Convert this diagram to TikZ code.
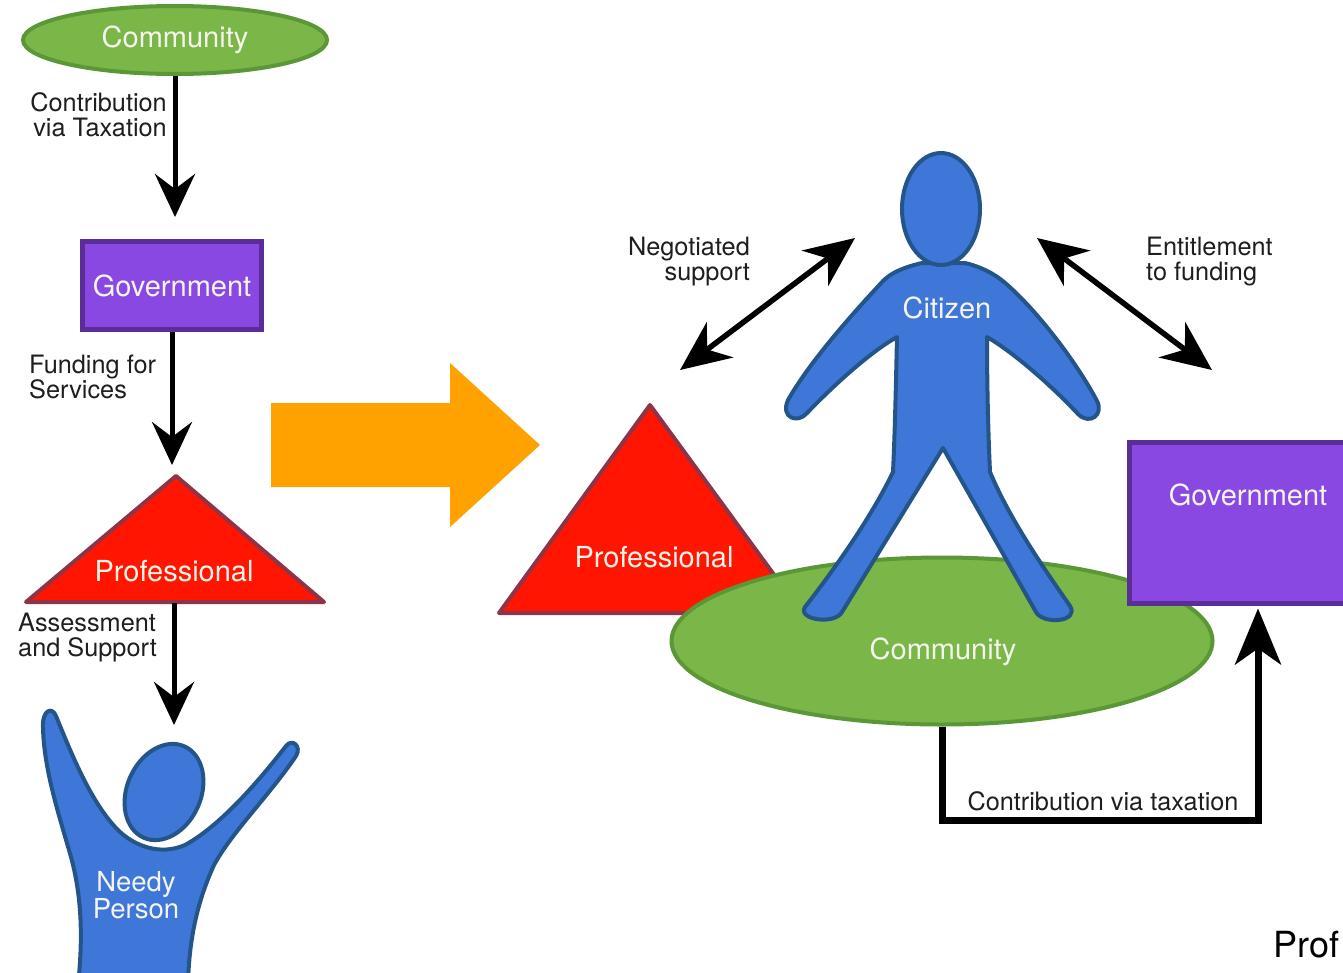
\documentclass[tikz,border=0pt]{standalone}
\usepackage{fontspec}
\setmainfont{TeX Gyre Heros}
\usetikzlibrary{arrows.meta,shapes.geometric}
\definecolor{grfill}{HTML}{7AB648}
\definecolor{grline}{HTML}{5B9637}
\definecolor{pufill}{HTML}{8A48E2}
\definecolor{puline}{HTML}{5A2E96}
\definecolor{rdfill}{HTML}{FF1500}
\definecolor{rdline}{HTML}{8E3448}
\definecolor{blfill}{HTML}{3F77D9}
\definecolor{blline}{HTML}{245488}
\definecolor{orfill}{HTML}{FFA200}
\definecolor{lighttxt}{HTML}{F4F4EC}
\definecolor{lbltxt}{HTML}{1E1E1E}
\tikzset{
  shapeline/.style={line width=4pt, line join=round},
  intxt/.style={font=\fontsize{29}{30}\selectfont, text=lighttxt, inner sep=0pt},
  lbl/.style={font=\fontsize{25.3}{25}\selectfont, text=lbltxt, inner sep=0pt},
  arr/.style={line width=5pt, -{Stealth[length=43pt,width=40pt,inset=15pt]}},
  arrb/.style={line width=7pt, line join=miter, -{Stealth[length=56pt,width=46pt,inset=16pt]}},
  darr/.style={line width=5.5pt, {Stealth[length=50pt,width=44pt,inset=16pt]}-{Stealth[length=50pt,width=44pt,inset=16pt]}},
}
\begin{document}
\begin{tikzpicture}[x=1pt,y=-1pt]
\useasboundingbox (0,0) rectangle (1343,972);
\clip (0,0) rectangle (1343,972);
\fill[white] (0,0) rectangle (1343,972);

% ---------- left column ----------
\node[ellipse, draw=grline, fill=grfill, shapeline, minimum width=304pt, minimum height=68pt, intxt] (comm1) at (175,40) {Community};
\node[rectangle, draw=puline, fill=pufill, line width=5pt, minimum width=179pt, minimum height=88pt, intxt] (gov1) at (172,285.5) {Government};
\filldraw[draw=rdline, fill=rdfill, shapeline] (176,476) -- (324,602) -- (26,602) -- cycle;
\coordinate (p1apex) at (176,474);
\coordinate (p1base) at (174,603);
\node[intxt] (prof1) at (174,571) {Professional};

% needy person
\filldraw[draw=blline, fill=blfill, shapeline]
  (56,716) .. controls (72,755) and (90,800) .. (116,828)
  .. controls (133,846) and (160,856) .. (185,845)
  .. controls (220,826) and (258,782) .. (286,746)
  .. controls (292,738) and (302,746) .. (296,756)
  .. controls (268,797) and (232,832) .. (214,865)
  .. controls (199,898) and (189,935) .. (188,985)
  -- (78,985)
  .. controls (84,930) and (80,890) .. (71,857)
  .. controls (59,815) and (44,770) .. (43,728)
  .. controls (42,710) and (52,706) .. (56,716) -- cycle;
\node[ellipse, draw=blline, fill=blfill, shapeline, minimum width=74pt, minimum height=100pt, rotate=-24] (nphead) at (164,792) {};
\coordinate (nptop) at (174,742);
\node[intxt, align=center, font=\fontsize{27.5}{26}\selectfont] (npt) at (136,895) {Needy\\Person};

\draw[arr, shorten >=22pt] (comm1.south) -- (comm1.south |- gov1.north);
\draw[arr, shorten >=9pt] (gov1.south) -- (gov1.south |- p1apex);
\draw[arr, shorten >=17pt] (p1base) -- (nptop);

\node[lbl, align=right, anchor=east] (ctl) at (167,115) {Contribution\\via Taxation};
\node[lbl, align=left, anchor=west] (ffs) at (29,377) {Funding for\\Services};
\node[lbl, align=left, anchor=west] (aas) at (18,638) {Assessment\\and Support};

% ---------- big orange arrow ----------
\fill[orfill] (271,403) -- (450,403) -- (450,363) -- (540,445) -- (450,527) -- (450,487) -- (271,487) -- cycle;

% ---------- right side ----------
\filldraw[draw=rdline, fill=rdfill, shapeline] (650,405) -- (802,613) -- (499,613) -- cycle;
\node[intxt] (prof2) at (654,557) {Professional};

\node[ellipse, draw=grline, fill=grfill, shapeline, minimum width=541pt, minimum height=167pt] (comm2) at (942,641) {};
\node[intxt] (comm2t) at (943,652) {Community};

% citizen
\filldraw[draw=blline, fill=blfill, shapeline]
  (922,263) .. controls (905,267) and (892,272) .. (883,281)
  .. controls (858,308) and (812,358) .. (788,400)
  .. controls (780,418) and (798,424) .. (807,413)
  .. controls (833,386) and (870,352) .. (897,337)
  .. controls (896,380) and (895,430) .. (893,472)
  .. controls (870,520) and (830,575) .. (805,607)
  .. controls (797,620) and (835,625) .. (842,612)
  -- (943,448)
  -- (1036,612)
  .. controls (1043,625) and (1080,622) .. (1070,606)
  .. controls (1045,570) and (1010,520) .. (990,472)
  .. controls (988,430) and (987,380) .. (987,337)
  .. controls (1013,352) and (1052,386) .. (1078,414)
  .. controls (1090,426) and (1104,414) .. (1097,401)
  .. controls (1077,363) and (1037,310) .. (1004,282)
  .. controls (992,272) and (978,266) .. (965,263) -- cycle;
\node[ellipse, draw=blline, fill=blfill, shapeline, minimum width=78pt, minimum height=112pt] (chead) at (941,209) {};
\node[intxt] (citt) at (947,308) {Citizen};

\node[rectangle, draw=puline, fill=pufill, line width=5pt, outer sep=0pt, minimum width=240pt, minimum height=161pt, anchor=north west] (gov2) at (1129.5,442.5) {};
\node[intxt] (gov2t) at (1248,495) {Government};

\coordinate (ctc) at (1258,820);
\draw[arrb, shorten >=5pt] (comm2.south) |- (ctc) -- (ctc |- gov2.south);
\node[lbl] (ctaxl) at (1103,801) {Contribution via taxation};

\coordinate (nl1) at (680,370);
\coordinate (nl2) at (855,238);
\coordinate (nr1) at (1037,238);
\coordinate (nr2) at (1212,370);
\draw[darr] (nl1) -- (nl2);
\draw[darr] (nr1) -- (nr2);
\node[lbl, align=right, anchor=east] (negl) at (750,262) {Negotiated\\support};
\node[lbl, align=left, anchor=west] (entl) at (1146,262) {Entitlement\\to funding};

\node[font=\fontsize{36}{38}\selectfont, anchor=base east, inner sep=0pt] (profcut) at (1340,957) {Prof};
\end{tikzpicture}
\end{document}
